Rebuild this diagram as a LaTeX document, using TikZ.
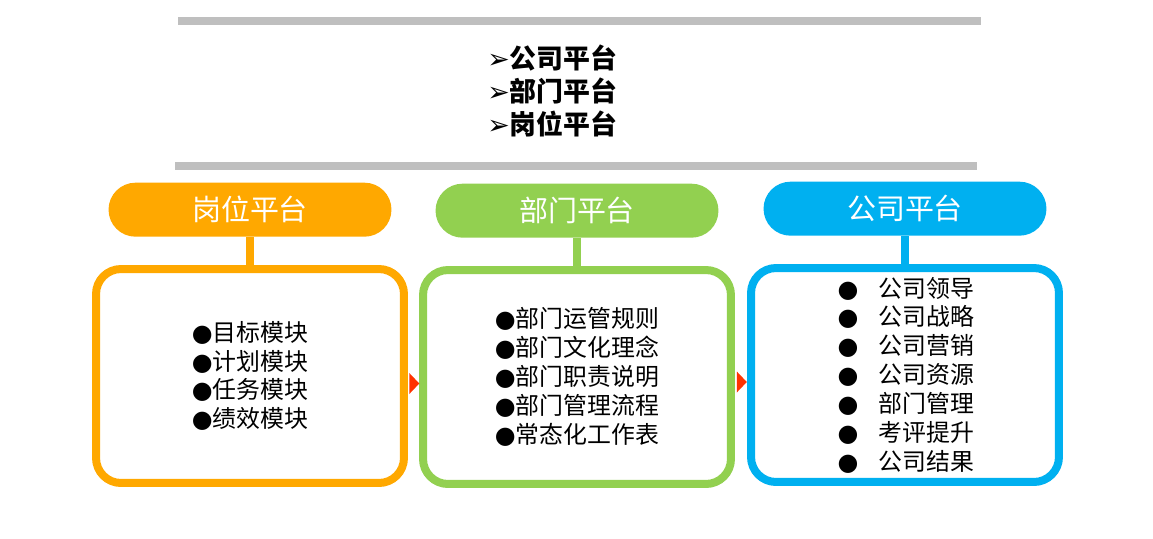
\documentclass[tikz,border=0pt]{standalone}
\usepackage{fontspec}
\setmainfont{Liberation Sans}
\newfontfamily\cjk{Noto Sans CJK SC}
\newfontfamily\symfont{DejaVu Sans}
\usepackage{xcolor}
\usetikzlibrary{arrows.meta,positioning,shapes.geometric,calc}
\definecolor{platorange}{HTML}{FFA800}
\definecolor{platgreen}{HTML}{92D050}
\definecolor{platblue}{HTML}{00B0F0}
\definecolor{rulegray}{HTML}{BFBFBF}
\definecolor{tipred}{HTML}{FF3300}
\newcommand{\dotmark}{{\symfont ●}}
\newcommand{\pointmark}{{\symfont ➢}}

\begin{document}
\begin{tikzpicture}[x=0.02cm,y=-0.02cm,
pill/.style={rectangle,rounded corners=0.54cm,fill=#1,text=white,
minimum width=5.66cm,minimum height=1.08cm,inner sep=0pt,
font=\cjk\fontsize{16.5}{19}\selectfont},
panel/.style={rectangle,rounded corners=0.5cm,draw=#1,fill=white,line width=0.16cm,
minimum width=6.16cm,minimum height=4.28cm,inner sep=0pt},
stem/.style={line width=0.16cm,draw=#1},
items/.style={align=left,inner sep=0pt,font=\cjk\fontsize{13.6}{16.4}\selectfont},
rule/.style={line width=0.16cm,rulegray},
tip/.style={isosceles triangle,isosceles triangle stretches,fill=tipred,
minimum width=0.42cm,minimum height=0.2cm,inner sep=0pt}]
\useasboundingbox (0,0) rectangle (1153,538);

% rules and the short list
\draw[rule] (178,21) -- (981,21);
\draw[rule] (175,166) -- (977,166);
\node[anchor=west,align=left,inner sep=0pt,font=\cjk\bfseries\fontsize{15.3}{18.7}\selectfont]
  (levels) at (487,91) {\pointmark 公司平台\\\pointmark 部门平台\\\pointmark 岗位平台};

% panels
\node[panel=platorange] (post) at (250,376) {};
\node[panel=platgreen] (dept) at (577,377) {};
\node[panel=platblue] (corp) at (905,375) {};

% headers
\node[pill=platorange, above=0.56cm of post] (posthead) {岗位平台};
\node[pill=platgreen, above=0.56cm of dept] (depthead) {部门平台};
\node[pill=platblue, above=0.56cm of corp] (corphead) {公司平台};
\draw[stem=platorange] (posthead) -- (post);
\draw[stem=platgreen] (depthead) -- (dept);
\draw[stem=platblue] (corphead) -- (corp);

% contents
\node[items] (postlist) at (post.center) {\dotmark 目标模块\\\dotmark 计划模块\\\dotmark 任务模块\\\dotmark 绩效模块};
\node[items] (deptlist) at (dept.center) {\dotmark 部门运管规则\\\dotmark 部门文化理念\\\dotmark 部门职责说明\\\dotmark 部门管理流程\\\dotmark 常态化工作表};
\node[items] (corplist) at (906,375) {\dotmark\hspace{0.85em}公司领导\\\dotmark\hspace{0.85em}公司战略\\\dotmark\hspace{0.85em}公司营销\\\dotmark\hspace{0.85em}公司资源\\\dotmark\hspace{0.85em}部门管理\\\dotmark\hspace{0.85em}考评提升\\\dotmark\hspace{0.85em}公司结果};

% small red tips
\node[tip] (tipa) at ($(post.east)!0.5!(dept.west)+(0,7)$) {};
\node[tip] (tipb) at ($(dept.east)!0.5!(corp.west)+(0,6)$) {};
\end{tikzpicture}
\end{document}
